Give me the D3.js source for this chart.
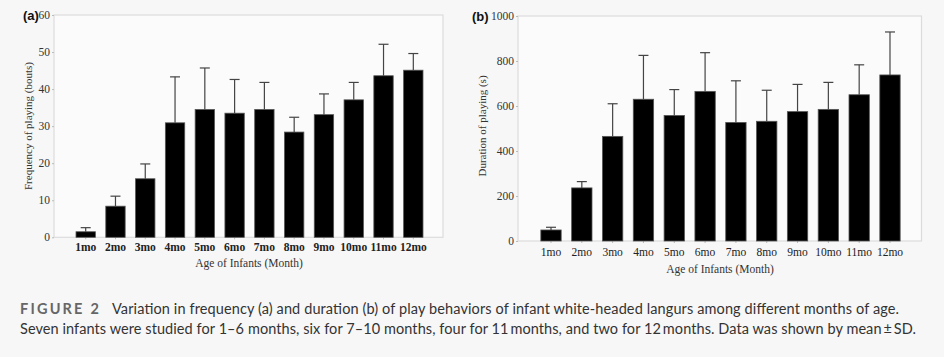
<!DOCTYPE html>
<html><head><meta charset="utf-8">
<script src="https://cdn.jsdelivr.net/npm/d3@7"></script>
<style>
html,body{margin:0;padding:0;background:#f7f7f7;}
svg{display:block;}
</style></head>
<body>
<svg id="chart" width="944" height="357"></svg>
<script>
const months = ["1mo","2mo","3mo","4mo","5mo","6mo","7mo","8mo","9mo","10mo","11mo","12mo"];
const freqMean = [1.5, 8.4, 15.8, 30.9, 34.5, 33.5, 34.5, 28.4, 33.1, 37.1, 43.6, 45.1];
const freqSD   = [1.1, 2.7, 4.0, 12.4, 11.2, 9.1, 7.3, 4.0, 5.6, 4.7, 8.5, 4.5];
const durMean  = [49, 236, 465, 630, 558, 665, 527, 532, 575, 585, 650, 738];
const durSD    = [12, 28, 145, 195, 115, 172, 185, 138, 121, 120, 133, 191];
const freqTicks = [0,10,20,30,40,50,60];
const durTicks = [0,200,400,600,800,1000];

const svg = d3.select("#chart");
const serif = "'Liberation Serif','Times New Roman',serif";

function panel(cfg){
  const g = svg.append("g");
  g.append("rect").attr("x",cfg.left).attr("y",cfg.top)
    .attr("width",cfg.right-cfg.left).attr("height",cfg.bottom-cfg.top)
    .attr("fill","#fbfbfb").attr("stroke","#dcdcdc").attr("stroke-width",1.2);
  const x = d3.scaleBand().domain(months).range([cfg.bandL, cfg.bandR]).paddingInner(cfg.padIn).paddingOuter(cfg.padOut);
  const y = d3.scaleLinear().domain([0, cfg.max]).range([cfg.bottom, cfg.top]);
  const ya = g.append("g").attr("transform",`translate(${cfg.left},0)`)
    .call(d3.axisLeft(y).tickValues(cfg.ticks).tickFormat(d3.format("d")).tickSize(2).tickPadding(2));
  ya.select(".domain").remove();
  ya.selectAll("line").attr("stroke","#bbb");
  ya.selectAll("text").attr("font-family",serif).attr("font-size",11.5).attr("fill","#333");
  const xa = g.append("g").attr("transform",`translate(0,${cfg.bottom})`)
    .call(d3.axisBottom(x).tickSize(2).tickPadding(cfg.xPad));
  xa.select(".domain").remove();
  xa.selectAll("line").attr("stroke","#bbb");
  xa.selectAll("text").attr("font-family",serif).attr("font-size",11.5).attr("fill","#222")
    .attr("font-weight",cfg.boldX?"bold":"normal");
  g.selectAll(".bar").data(months).join("rect")
    .attr("x",d=>x(d)).attr("width",x.bandwidth())
    .attr("y",(d,i)=>y(cfg.mean[i])).attr("height",(d,i)=>cfg.bottom-y(cfg.mean[i]))
    .attr("fill","#000").attr("stroke","#555").attr("stroke-width",0.8);
  const cx = d=>x(d)+x.bandwidth()/2;
  g.selectAll(".ev").data(months).join("line")
    .attr("x1",cx).attr("x2",cx)
    .attr("y1",(d,i)=>y(cfg.mean[i])).attr("y2",(d,i)=>y(cfg.mean[i]+cfg.sd[i]))
    .attr("stroke","#444").attr("stroke-width",1.2);
  g.selectAll(".ec").data(months).join("line")
    .attr("x1",d=>cx(d)-5).attr("x2",d=>cx(d)+5)
    .attr("y1",(d,i)=>y(cfg.mean[i]+cfg.sd[i])).attr("y2",(d,i)=>y(cfg.mean[i]+cfg.sd[i]))
    .attr("stroke","#444").attr("stroke-width",1.2);
  g.append("text").attr("x",cfg.xlabX).attr("y",cfg.xlabY).attr("text-anchor","middle")
    .attr("font-family",serif).attr("font-size",11.5).attr("fill","#333").text("Age of Infants (Month)");
  g.append("text").attr("transform",`translate(${cfg.ylabX},${cfg.ylabY}) rotate(-90)`)
    .attr("text-anchor","middle").attr("font-family",serif).attr("font-size",11).attr("fill","#333")
    .text(cfg.ylab);
  g.append("text").attr("x",cfg.tagX).attr("y",cfg.tagY).attr("font-family","'Liberation Sans',Arial,sans-serif")
    .attr("font-weight","bold").attr("font-size",13).attr("fill","#111").text(cfg.tag);
}

panel({left:54, right:443, top:15, bottom:237.3, bandL:70.8, bandR:428.2, padIn:0.35, padOut:0.175,
  max:60, ticks:freqTicks, mean:freqMean, sd:freqSD, boldX:true, xPad:4,
  xlabX:249, xlabY:267, ylabX:32, ylabY:126, ylab:"Frequency of playing (bouts)", tagX:23, tagY:20, tag:"(a)"});
panel({left:518, right:921.5, top:16, bottom:241, bandL:535.6, bandR:905.4, padIn:0.34, padOut:0.17,
  max:1000, ticks:durTicks, mean:durMean, sd:durSD, boldX:false, xPad:5,
  xlabX:720, xlabY:273, ylabX:486, ylabY:126, ylab:"Duration of playing (s)", tagX:472, tagY:21, tag:"(b)"});

// caption
const capFont = "Lato,'Noto Sans',sans-serif";
svg.append("text").attr("x",20).attr("y",314).attr("font-family",capFont).attr("font-size",14.5)
  .attr("fill","#666").attr("font-weight","bold").attr("letter-spacing","2.2").text("FIGURE 2");
svg.append("text").attr("x",112).attr("y",314).attr("font-family",capFont).attr("font-size",14.5).attr("fill","#333")
  .attr("textLength",787).attr("lengthAdjust","spacing")
  .text("Variation in frequency (a) and duration (b) of play behaviors of infant white-headed langurs among different months of age.");
svg.append("text").attr("x",20).attr("y",334).attr("font-family",capFont).attr("font-size",14.5).attr("fill","#333")
  .attr("textLength",896).attr("lengthAdjust","spacing")
  .text("Seven infants were studied for 1–6 months, six for 7–10 months, four for 11\u2009months, and two for 12\u2009months. Data was shown by mean\u2009±\u2009SD.");
</script>
</body></html>
